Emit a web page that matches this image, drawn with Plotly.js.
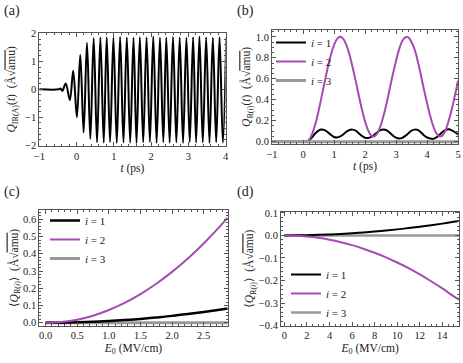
<!DOCTYPE html>
<html><head><meta charset="utf-8">
<script src="https://cdn.plot.ly/plotly-3.0.1.min.js"></script>
<style>html,body{margin:0;padding:0;background:#fff}#c{width:463px;height:363px}</style>
</head><body><div id="c"></div>
<script>
// Panel (a): Q_IR(A)(t) oscillation, extrema
const aT = [-1.0, -0.48, -0.43, -0.38, -0.29, -0.18, -0.09, 0.01, 0.10, 0.19, 0.28, 0.37,
  0.46, 0.55, 0.64, 0.73, 0.81, 0.90, 0.99, 1.08, 1.17, 1.26, 1.35, 1.44, 1.53, 1.61, 1.70, 1.79,
  1.88, 1.97, 2.06, 2.15, 2.24, 2.33, 2.41, 2.50, 2.59, 2.68, 2.77, 2.86, 2.95, 3.04, 3.13, 3.21,
  3.30, 3.39, 3.48, 3.57, 3.66, 3.75, 3.84, 3.93, 4.02];
const aQ = [0, 0, 0.03, -0.05, 0.21, -0.38, 0.67, -1.0, 1.24, -1.55, 1.67, -1.78,
  1.84, -1.90, 1.86, -1.91, 1.87, -1.89, 1.85, -1.92, 1.88, -1.90, 1.86, -1.91, 1.85, -1.93, 1.87, -1.90,
  1.86, -1.89, 1.89, -1.92, 1.85, -1.90, 1.86, -1.91, 1.88, -1.90, 1.86, -1.92, 1.85, -1.89, 1.87, -1.91,
  1.89, -1.90, 1.86, -1.92, 1.85, -1.90, 1.87, -1.91, 1.86];

// Panel (b): Q_R(i)(t)
const bT = [-1, -0.5, 0, 0.1, 0.2, 0.3, 0.4, 0.5, 0.6, 0.7, 0.8, 0.9, 1.0, 1.1, 1.2, 1.3, 1.4, 1.5, 1.6, 1.7, 1.8, 1.9,
  2.0, 2.1, 2.2, 2.3, 2.4, 2.5, 2.6, 2.7, 2.8, 2.9, 3.0, 3.1, 3.2, 3.3, 3.4, 3.5, 3.6, 3.7, 3.8, 3.9,
  4.0, 4.1, 4.2, 4.3, 4.4, 4.5, 4.6, 4.7, 4.8, 4.9, 5.0];
const bQ2 = [0, 0, 0, 0, 0.02, 0.08, 0.17, 0.29, 0.43, 0.57, 0.71, 0.83, 0.92, 0.98, 1.0, 0.98, 0.92, 0.83, 0.71, 0.58, 0.44, 0.31,
  0.195, 0.11, 0.06, 0.05, 0.08, 0.15, 0.25, 0.37, 0.51, 0.645, 0.77, 0.88, 0.96, 0.996, 0.995, 0.95, 0.88, 0.77, 0.64, 0.50,
  0.37, 0.25, 0.15, 0.08, 0.05, 0.06, 0.11, 0.20, 0.31, 0.44, 0.58];
const bQ1 = [0, 0, 0, 0.002, 0.015, 0.045, 0.08, 0.105, 0.115, 0.11, 0.09, 0.065, 0.045, 0.04, 0.05, 0.07, 0.095, 0.112, 0.115, 0.105, 0.08, 0.055,
  0.038, 0.035, 0.045, 0.065, 0.09, 0.11, 0.115, 0.108, 0.085, 0.058, 0.038, 0.03, 0.036, 0.055, 0.08, 0.105, 0.115, 0.112, 0.09, 0.062,
  0.04, 0.03, 0.027, 0.04, 0.065, 0.092, 0.112, 0.118, 0.108, 0.09, 0.07];
const bQ3 = [0, 0, 0, 0, 0, 0, 0, 0, 0, 0, 0, 0, 0, 0, 0, 0, 0, 0, 0, 0, 0, 0,
  0, 0, 0, 0, 0, 0, 0, 0, 0, 0, 0, 0, 0, 0, 0, 0, 0, 0, 0, 0,
  0, 0, 0, 0, 0, 0, 0, 0, 0, 0, 0];

// Panel (c): <Q_R(i)> vs E0 (small field range)
const cE = [0, 0.25, 0.5, 0.75, 1.0, 1.25, 1.5, 1.75, 2.0, 2.25, 2.5, 2.75, 2.88];
const cQ1 = [0, 0.0006, 0.0025, 0.0056, 0.01, 0.0156, 0.0225, 0.031, 0.04, 0.051, 0.063, 0.076, 0.083];
const cQ2 = [0, 0.005, 0.018, 0.041, 0.074, 0.115, 0.166, 0.226, 0.295, 0.373, 0.46, 0.556, 0.61];
const cQ3 = [0, 0, 0, 0, 0, 0, 0, 0, 0, 0, 0, 0, 0];

// Panel (d): <Q_R(i)> vs E0 (large field range)
const dE = [0, 1, 2, 3, 4, 5, 6, 7, 8, 9, 10, 11, 12, 13, 14, 15, 15.5];
const dQ1 = [0, 0.0003, 0.0011, 0.0024, 0.0043, 0.0067, 0.0096, 0.013, 0.017, 0.0216, 0.0267, 0.0323, 0.0384, 0.045, 0.0522, 0.06, 0.064];
const dQ2 = [0, -0.0012, -0.0048, -0.0108, -0.0192, -0.03, -0.043, -0.059, -0.077, -0.097, -0.12, -0.145, -0.173, -0.203, -0.235, -0.27, -0.285];
const dQ3 = [0, 0, 0, 0, 0, 0, 0, 0, 0, 0, 0, 0, 0, 0, 0, 0, 0];

const seriesNames = ['<i>i</i> = 1', '<i>i</i> = 2', '<i>i</i> = 3'];
const panelLabels = ['(a)', '(b)', '(c)', '(d)'];
const unit = '(Å√<span style="text-decoration:overline">amu</span>)';
const xTitles = ['<i>t</i> (ps)', '<i>t</i> (ps)', '<i>E</i><sub>0</sub> (MV/cm)', '<i>E</i><sub>0</sub> (MV/cm)'];
const yTitles = ['<i>Q</i><sub>IR(A)</sub>(<i>t</i>)  ' + unit, '<i>Q</i><sub>R(<i>i</i>)</sub>(<i>t</i>)  ' + unit,
  '⟨<i>Q</i><sub>R(<i>i</i>)</sub>⟩  ' + unit, '⟨<i>Q</i><sub>R(<i>i</i>)</sub>⟩  ' + unit];

const BLACK = '#000000', PURPLE = '#a64bb4', GRAY = '#999999';
const FONT = '"Liberation Serif", "DejaVu Serif", serif';

const traces = [
  {x: aT, y: aQ, xaxis: 'x', yaxis: 'y', mode: 'lines', line: {color: BLACK, width: 2, shape: 'spline', smoothing: 1}, showlegend: false},
  {x: bT, y: bQ1, xaxis: 'x2', yaxis: 'y2', mode: 'lines', name: seriesNames[0], legend: 'legend', legendrank: 1, line: {color: BLACK, width: 2, shape: 'spline'}},
  {x: bT, y: bQ2, xaxis: 'x2', yaxis: 'y2', mode: 'lines', name: seriesNames[1], legend: 'legend', legendrank: 2, line: {color: PURPLE, width: 2, shape: 'spline'}},
  {x: bT, y: bQ3, xaxis: 'x2', yaxis: 'y2', mode: 'lines', name: seriesNames[2], legend: 'legend', legendrank: 3, line: {color: GRAY, width: 3}},
  {x: cE, y: cQ3, xaxis: 'x3', yaxis: 'y3', mode: 'lines', name: seriesNames[2], legend: 'legend2', legendrank: 3, line: {color: GRAY, width: 3}},
  {x: cE, y: cQ1, xaxis: 'x3', yaxis: 'y3', mode: 'lines', name: seriesNames[0], legend: 'legend2', legendrank: 1, line: {color: BLACK, width: 2.5, shape: 'spline'}},
  {x: cE, y: cQ2, xaxis: 'x3', yaxis: 'y3', mode: 'lines', name: seriesNames[1], legend: 'legend2', legendrank: 2, line: {color: PURPLE, width: 2, shape: 'spline'}},
  {x: dE, y: dQ3, xaxis: 'x4', yaxis: 'y4', mode: 'lines', name: seriesNames[2], legend: 'legend3', legendrank: 3, line: {color: GRAY, width: 2.5}},
  {x: dE, y: dQ1, xaxis: 'x4', yaxis: 'y4', mode: 'lines', name: seriesNames[0], legend: 'legend3', legendrank: 1, line: {color: BLACK, width: 2, shape: 'spline'}},
  {x: dE, y: dQ2, xaxis: 'x4', yaxis: 'y4', mode: 'lines', name: seriesNames[1], legend: 'legend3', legendrank: 2, line: {color: PURPLE, width: 2, shape: 'spline'}}
];

const TF = {family: FONT, size: 11.5, color: '#222'};
function ax(domain, anchor, range, dtick, mdtick, fmt, title, standoff) {
  return {
    domain: domain, anchor: anchor, range: range, dtick: dtick, tick0: 0,
    ticks: 'inside', ticklen: 4, tickwidth: 1, tickcolor: '#555',
    showline: true, linecolor: '#555', linewidth: 1, mirror: 'allticks',
    minor: {ticks: 'inside', ticklen: 2, dtick: mdtick, tick0: 0, tickcolor: '#555', showgrid: false},
    showgrid: false, zeroline: false, tickformat: fmt || '',
    tickfont: {family: FONT, size: 10.5, color: '#222'},
    title: {text: title, font: TF, standoff: standoff}
  };
}

const W = 463, H = 363;
const px = v => v / W, py = v => 1 - v / H;

const legendBase = {
  bgcolor: 'rgba(0,0,0,0)', borderwidth: 0, xanchor: 'left', yanchor: 'top',
  font: {family: FONT, size: 11, color: '#222'}, tracegroupgap: 0, itemwidth: 30,
  traceorder: 'normal'
};

const layout = {
  width: W, height: H, margin: {l: 0, r: 0, t: 0, b: 0},
  paper_bgcolor: '#fff', plot_bgcolor: '#fff',
  font: {family: FONT, color: '#222'},
  xaxis: ax([px(39.3), px(225.5)], 'y', [-1, 4], 1, 0.2, '', xTitles[0], 3),
  yaxis: ax([py(146), py(32.7)], 'x', [-2.03, 2.03], 1, 0.2, '', yTitles[0], 6),
  xaxis2: ax([px(272), px(458)], 'y2', [-1, 5], 1, 0.2, '', xTitles[1], 3),
  yaxis2: ax([py(144.3), py(29.5)], 'x2', [-0.025, 1.07], 0.2, 0.05, '.1f', yTitles[1], 2),
  xaxis3: ax([px(39.3), px(227.7)], 'y3', [-0.1, 2.88], 0.5, 0.1, '.1f', xTitles[2], 3),
  yaxis3: ax([py(325.7), py(210)], 'x3', [-0.017, 0.654], 0.1, 0.02, '.1f', yTitles[2], 2),
  xaxis4: ax([px(281), px(459.3)], 'y4', [-0.3, 15.5], 2, 0.5, '', xTitles[3], 3),
  yaxis4: ax([py(325.7), py(211.7)], 'x4', [-0.4, 0.105], 0.1, 0.02, '.1f', yTitles[3], 2),
  legend: Object.assign({}, legendBase, {x: px(271), y: py(28)}),
  legend2: Object.assign({}, legendBase, {x: px(45), y: py(206)}),
  legend3: Object.assign({}, legendBase, {x: px(286), y: py(260)}),
  annotations: []
};

const A = (x, y, text) => ({xref: 'paper', yref: 'paper', x: px(x), y: py(y), text: text,
  showarrow: false, xanchor: 'center', yanchor: 'middle', font: {family: FONT, size: 14, color: '#222'}});
layout.annotations.push(
  A(12, 10.5, panelLabels[0]), A(245, 10.5, panelLabels[1]),
  A(12, 192, panelLabels[2]), A(245, 192, panelLabels[3])
);

Plotly.newPlot('c', traces, layout, {staticPlot: true, displayModeBar: false});
</script></body></html>
